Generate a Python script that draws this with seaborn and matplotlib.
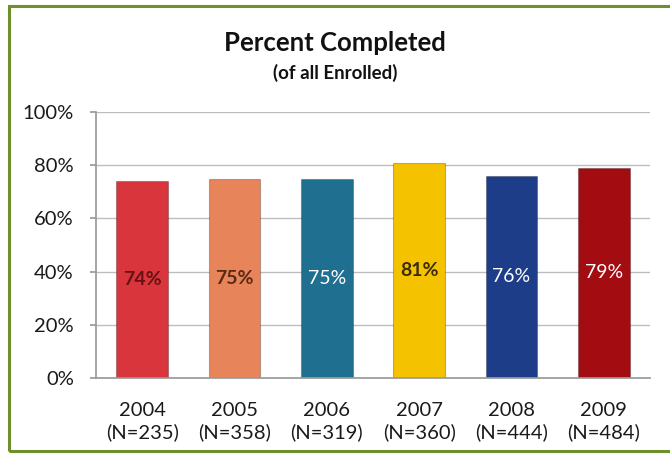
import matplotlib
matplotlib.use("Agg")
import matplotlib.pyplot as plt
from matplotlib.patches import Rectangle
import seaborn as sns
import pandas as pd

years = ["2004", "2005", "2006", "2007", "2008", "2009"]
enrolled = [235, 358, 319, 360, 444, 484]
pct_completed = [74, 75, 75, 81, 76, 79]
bar_colors = ["#d8353d", "#e8845a", "#1f6f90", "#f5c200", "#1d3d88", "#a30d12"]
label_colors = ["#6a1212", "#5a2a12", "#ffffff", "#3a2c05", "#ffffff", "#ffffff"]
y_ticks = [0, 20, 40, 60, 80, 100]

df = pd.DataFrame({"year": years, "pct": pct_completed})

sns.set_theme(style="white")
plt.rcParams["font.family"] = ["Lato", "DejaVu Sans"]

fig = plt.figure(figsize=(6.7, 4.59), dpi=100)
ax = fig.add_axes([96 / 670, 1 - 378 / 459, (650 - 96) / 670, (378 - 112) / 459])

sns.barplot(data=df, x="year", y="pct", hue="year", palette=bar_colors,
            saturation=1, dodge=False, legend=False, width=0.56, ax=ax,
            edgecolor="#00000040", linewidth=0.8)

for i, (v, c) in enumerate(zip(pct_completed, label_colors)):
    weight = "bold" if c != "#ffffff" else "normal"
    ax.text(i, v / 2, f"{v}%", ha="center", va="center", fontsize=14,
            color=c, fontweight=weight)

ax.set_ylim(0, 100)
ax.set_xlim(-0.5, len(years) - 0.5)
ax.set_yticks(y_ticks)
ax.set_yticklabels([f"{t}%" for t in y_ticks], fontsize=14.5, color="#1a1a1a")
ax.set_xticks(range(len(years)))
ax.set_xticklabels([f"{y}\n(N={n})" for y, n in zip(years, enrolled)],
                   fontsize=14.5, color="#1a1a1a", linespacing=1.3)
ax.set_xlabel("")
ax.set_ylabel("")

ax.yaxis.grid(True, color="#bdbdbd", linewidth=1)
ax.set_axisbelow(True)
for side in ["top", "right"]:
    ax.spines[side].set_visible(False)
ax.spines["left"].set_color("#9a9a9a")
ax.spines["bottom"].set_color("#9a9a9a")

# category separator ticks on the x axis, small ticks on the y axis
ax.set_xticks([i - 0.5 for i in range(len(years) + 1)], minor=True)
ax.tick_params(axis="x", which="minor", length=5, color="#9a9a9a", direction="out")
ax.tick_params(axis="x", which="major", length=0, pad=17)
ax.tick_params(axis="y", which="major", length=4, color="#9a9a9a", direction="out", pad=12)
ax.tick_params(bottom=True, left=True)

fig.text(0.5, 1 - 43 / 459, "Percent Completed", ha="center", va="center",
         fontsize=18.5, fontweight="bold", color="#111111")
fig.text(0.5, 1 - 73 / 459, "(of all Enrolled)", ha="center", va="center",
         fontsize=13.5, fontweight="bold", color="#111111")

fig.patches.append(Rectangle((9 / 670, 1 - 451 / 459), 1.2, (451 - 6) / 459,
                             transform=fig.transFigure, fill=False,
                             edgecolor="#6f8f2a", linewidth=2.2))

fig.savefig("out.png", dpi=100, facecolor="white")
